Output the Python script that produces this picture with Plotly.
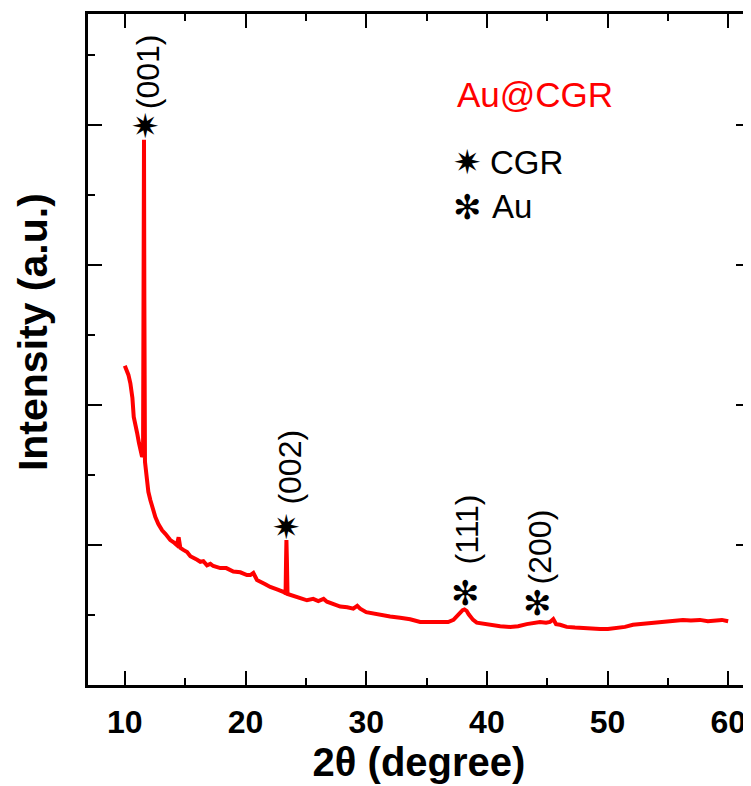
import plotly.graph_objects as go

# 2-theta (degree) and intensity (a.u.)
two_theta = [10.00, 10.13, 10.30, 10.46, 10.63, 10.74, 10.88, 11.02, 11.17, 11.29, 11.43, 11.51,
             11.56, 11.59, 11.62, 11.67, 11.71, 11.85, 11.95, 12.12, 12.33, 12.53, 12.78, 13.09,
             13.36, 13.77, 14.11, 14.31, 14.46, 14.60, 14.85, 15.16, 15.43, 15.68, 15.99, 16.26,
             16.51, 16.81, 17.09, 17.33, 17.91, 18.41, 18.99, 19.57, 20.12, 20.40, 20.65, 20.95,
             21.23, 21.64, 22.05, 22.30, 22.72, 23.13, 23.32, 23.36, 23.39, 23.43, 23.48, 23.71,
             24.12, 24.54, 25.09, 25.61, 26.03, 26.47, 26.75, 27.27, 27.85, 28.43, 28.93, 29.26,
             29.50, 30.00, 30.58, 31.16, 31.98, 32.81, 33.64, 34.47, 35.30, 36.13, 36.79, 37.23,
             37.53, 37.78, 37.99, 38.14, 38.32, 38.49, 38.61, 38.86, 39.16, 39.85, 40.54, 41.10,
             41.93, 42.59, 43.30, 43.82, 44.40, 44.90, 45.23, 45.50, 45.73, 46.06, 46.61, 47.30,
             47.96, 48.63, 49.37, 50.03, 50.75, 51.44, 52.10, 52.77, 53.51, 54.17, 54.89, 55.58,
             56.24, 56.90, 57.65, 58.31, 59.03, 59.47, 59.99]
intensity = [4.56, 4.50, 4.43, 4.31, 4.10, 3.83, 3.67, 3.60, 3.46, 3.36, 3.26, 3.29,
             5.50, 7.79, 5.50, 3.19, 3.12, 2.89, 2.76, 2.64, 2.51, 2.40, 2.30, 2.21,
             2.16, 2.07, 2.03, 2.00, 2.11, 1.96, 1.93, 1.90, 1.84, 1.81, 1.79, 1.76,
             1.77, 1.71, 1.73, 1.70, 1.67, 1.67, 1.62, 1.61, 1.57, 1.57, 1.60, 1.50,
             1.48, 1.44, 1.40, 1.39, 1.36, 1.33, 1.31, 1.79, 2.07, 1.79, 1.30, 1.29,
             1.27, 1.24, 1.21, 1.23, 1.20, 1.23, 1.19, 1.16, 1.12, 1.11, 1.09, 1.13,
             1.09, 1.04, 1.02, 1.00, 0.98, 0.96, 0.94, 0.90, 0.90, 0.89, 0.90, 0.93,
             0.99, 1.03, 1.07, 1.08, 1.06, 1.01, 0.98, 0.93, 0.89, 0.87, 0.86, 0.84,
             0.83, 0.84, 0.87, 0.89, 0.90, 0.89, 0.90, 0.94, 0.87, 0.86, 0.83, 0.82,
             0.81, 0.81, 0.80, 0.80, 0.81, 0.83, 0.86, 0.87, 0.88, 0.89, 0.90, 0.91,
             0.93, 0.92, 0.93, 0.91, 0.92, 0.93, 0.91]

# peak labels: (position, star height, label height, hkl, phase)
peak_x = [11.71, 23.43, 38.25, 44.16]
star_y = [7.99, 2.26, 1.31, 1.17]
label_x = [11.87, 23.71, 38.34, 44.40]
label_y = [8.76, 3.11, 2.22, 1.98]
peak_hkl = ["(001)", "(002)", "(111)", "(200)"]
peak_phase = ["CGR", "CGR", "Au", "Au"]

x_ticks = [10, 20, 30, 40, 50, 60]

SYMBOL = {"CGR": "\u2737", "Au": "\u273B"}
SYMBOL_SIZE = {"CGR": 34, "Au": 34}
FONT = "Liberation Sans, Arial, sans-serif"

fig = go.Figure()
fig.add_trace(go.Scatter(x=two_theta, y=intensity, mode="lines",
                         line=dict(color="#ff0000", width=4), showlegend=False))

for px, sy, lx, ly, hkl, ph in zip(peak_x, star_y, label_x, label_y, peak_hkl, peak_phase):
    fig.add_annotation(x=px, y=sy, text=SYMBOL[ph], showarrow=False,
                       font=dict(family="DejaVu Sans", size=SYMBOL_SIZE[ph], color="black"))
    fig.add_annotation(x=lx, y=ly, text=hkl, showarrow=False, textangle=-90,
                       font=dict(family=FONT, size=32, color="black"))

# legend-like labels
fig.add_annotation(x=37.36, y=8.44, text="Au@CGR", showarrow=False, xanchor="left",
                   font=dict(family=FONT, size=35, color="#ff0000"))
fig.add_annotation(x=38.36, y=7.47, text=SYMBOL["CGR"], showarrow=False,
                   font=dict(family="DejaVu Sans", size=SYMBOL_SIZE["CGR"], color="black"))
fig.add_annotation(x=40.10, y=7.47, text="CGR", showarrow=False, xanchor="left",
                   font=dict(family=FONT, size=33, color="black"))
fig.add_annotation(x=38.36, y=6.83, text=SYMBOL["Au"], showarrow=False,
                   font=dict(family="DejaVu Sans", size=SYMBOL_SIZE["Au"], color="black"))
fig.add_annotation(x=40.26, y=6.83, text="Au", showarrow=False, xanchor="left",
                   font=dict(family=FONT, size=33, color="black"))

# y-axis title (placed slightly above the axis centre, as in the reference)
fig.add_annotation(xref="paper", yref="paper", x=-0.083, y=0.526, text="Intensity (a.u.)",
                   showarrow=False, textangle=-90, xanchor="center", yanchor="middle",
                   font=dict(family=FONT, size=41, color="black", weight="bold"))

axis_common = dict(showline=True, linecolor="black", linewidth=2.5, mirror="ticks",
                   ticks="inside", tickcolor="black", tickwidth=2, showgrid=False,
                   zeroline=False, automargin=False)

# the page body adds an 8 px offset, so the figure is 8 px smaller each way
fig.update_layout(
    width=743, height=778,
    margin=dict(l=80, r=1, t=6, b=101),
    plot_bgcolor="white", paper_bgcolor="white",
    xaxis=dict(range=[6.95, 61.8], tickvals=x_ticks, ticklen=14, ticklabelstandoff=7,
               minor=dict(dtick=5, tick0=0, ticklen=7, ticks="inside", tickcolor="black", tickwidth=2),
               tickfont=dict(family=FONT, size=32, color="black", weight="bold"),
               title=dict(text="2\u03b8 (degree)", standoff=7,
                          font=dict(family=FONT, size=40, color="black", weight="bold")),
               **axis_common),
    yaxis=dict(range=[0, 9.586], dtick=2, tick0=0, ticklen=14, showticklabels=False,
               minor=dict(dtick=1, tick0=0, ticklen=7, ticks="inside", tickcolor="black", tickwidth=2),
               **axis_common),
)

fig.write_html("out.html")
